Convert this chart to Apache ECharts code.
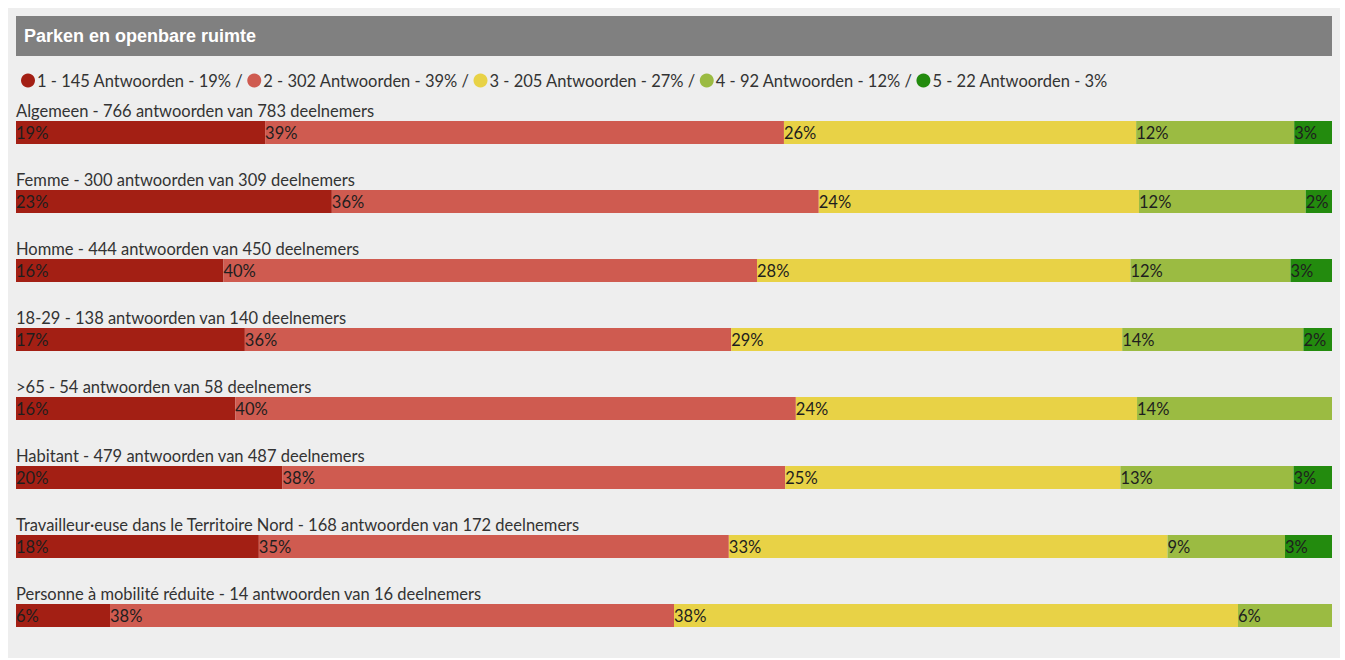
<!DOCTYPE html>
<html>
<head>
<meta charset="utf-8">
<script src="https://cdn.jsdelivr.net/npm/echarts@6/dist/echarts.min.js"></script>
<style>
  html, body { margin: 0; padding: 0; background: #ffffff; }
  #chart { position: absolute; left: 8px; top: 8px; width: 1332px; height: 650px; background: #eeeeee; }
</style>
</head>
<body>
<div id="chart"></div>
<script>
// ---- data ----
const titleText = 'Parken en openbare ruimte';
const categories = ['Algemeen', 'Femme', 'Homme', '18-29', '>65', 'Habitant',
  'Travailleur·euse dans le Territoire Nord', 'Personne à mobilité réduite'];
const answers = [766, 300, 444, 138, 54, 479, 168, 14];
const participants = [783, 309, 450, 140, 58, 487, 172, 16];
const scoreNames = ['1', '2', '3', '4', '5'];
const score1 = [145, 72, 70, 24, 9, 97, 31, 1];
const score2 = [302, 111, 180, 51, 23, 183, 60, 6];
const score3 = [205, 73, 126, 41, 14, 122, 56, 6];
const score4 = [92, 38, 54, 19, 8, 63, 15, 1];
const score5 = [22, 6, 14, 3, 0, 14, 6, 0];
const pct1 = [19, 23, 16, 17, 16, 20, 18, 6];
const pct2 = [39, 36, 40, 36, 40, 38, 35, 38];
const pct3 = [26, 24, 28, 29, 24, 25, 33, 38];
const pct4 = [12, 12, 12, 14, 14, 13, 9, 6];
const pct5 = [3, 2, 3, 2, null, 3, 3, null];
const legendCounts = [145, 302, 205, 92, 22];
const legendPct = [19, 39, 27, 12, 3];

const colors = ['#a31f14', '#cf5b50', '#e8d246', '#9bbb42', '#238b0e'];
const scores = [score1, score2, score3, score4, score5];
const pcts = [pct1, pct2, pct3, pct4, pct5];

const font = 'Lato, "Open Sans", sans-serif';

const rowLabels = categories.map((c, i) =>
  c + ' - ' + answers[i] + ' antwoorden van ' + participants[i] + ' deelnemers');

const legendLabel = {};
scoreNames.forEach((n, k) => {
  legendLabel[n] = n + ' - ' + legendCounts[k] + ' Antwoorden - ' + legendPct[k] + '%' +
    (k < scoreNames.length - 1 ? ' /' : '');
});

const series = scoreNames.map((n, k) => ({
  name: n,
  type: 'bar',
  stack: 'total',
  barWidth: 23,
  itemStyle: { color: colors[k] },
  data: scores[k].map((v, i) => v / answers[i]),
  label: {
    show: true,
    position: 'insideLeft',
    distance: 0,
    color: '#1e1e1e',
    fontFamily: font,
    fontSize: 16.5,
    formatter: p => {
      const v = pcts[k][p.dataIndex];
      return (scores[k][p.dataIndex] > 0 && v != null) ? v + '%' : '';
    }
  },
  emphasis: { disabled: true }
}));

const chart = echarts.init(document.getElementById('chart'), null, { renderer: 'svg' });
chart.setOption({
  animation: false,
  graphic: [
    { type: 'rect', left: 8, top: 8, shape: { width: 1316, height: 40 }, style: { fill: '#808080' }, z: 0 },
    { type: 'text', left: 16, top: 19, z: 1,
      style: { text: titleText, fill: '#ffffff', font: 'bold 18px "Liberation Sans", Arial, sans-serif' } }
  ],
  legend: {
    left: 8,
    top: 59,
    icon: 'circle',
    itemWidth: 14,
    itemHeight: 14,
    itemGap: 4,
    data: scoreNames,
    formatter: n => legendLabel[n],
    textStyle: { color: '#333333', fontFamily: font, fontSize: 16.5, padding: [0, 0, 0, -3] },
    selectedMode: false
  },
  grid: { left: 8, right: 8, top: 90, height: 552, containLabel: false },
  xAxis: {
    type: 'value', min: 0, max: 1,
    show: false
  },
  yAxis: {
    type: 'category',
    data: rowLabels,
    inverse: true,
    axisLine: { show: false },
    axisTick: { show: false },
    splitLine: { show: false },
    axisLabel: {
      inside: true,
      margin: 0,
      align: 'left',
      verticalAlign: 'bottom',
      lineHeight: 19,
      padding: [0, 0, 12, 0],
      color: '#333333',
      fontFamily: font,
      fontSize: 16.5
    }
  },
  series: series
});
</script>
</body>
</html>
